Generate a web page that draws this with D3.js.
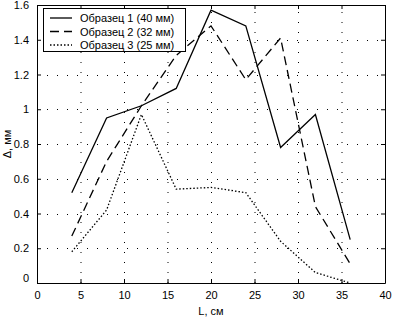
<!DOCTYPE html>
<html>
<head>
  <meta charset='utf-8'>
  <style>
    body { margin: 0; background: #fff; }
    text { font-family: "Liberation Sans", Arial, sans-serif; font-size: 11px; fill: #000; }
  </style>
  <script src='https://cdn.jsdelivr.net/npm/d3@7'></script>
</head>
<body>
  <script>
    // значения
    const L = [4, 8, 12, 16, 20, 24, 28, 32, 36]
    const s1 = [0.52, 0.95, 1.02, 1.12, 1.57, 1.48, 0.78, 0.97, 0.25]
    const s2 = [0.27, 0.70, 1.02, 1.31, 1.48, 1.17, 1.41, 0.44, 0.11]
    const s3 = [0.18, 0.42, 0.97, 0.54, 0.55, 0.52, 0.24, 0.06, 0.00]
    const names = ['Образец 1 (40 мм)', 'Образец 2 (32 мм)', 'Образец 3 (25 мм)']
    const xTicks = [0, 5, 10, 15, 20, 25, 30, 35, 40]
    const yTicks = [0, 0.2, 0.4, 0.6, 0.8, 1, 1.2, 1.4, 1.6]

    const width = 395, height = 321
    const m = { left: 37, right: 10, top: 5, bottom: 38 }

    const svg = d3.select('body').append('svg')
      .attr('width', width).attr('height', height)

    const x = d3.scaleLinear([0, 40], [m.left, width - m.right])
    const y = d3.scaleLinear([0, 1.6], [height - m.bottom, m.top])

    // сетка точками
    const grid = svg.append('g').attr('stroke', '#000').attr('stroke-width', 1)
      .attr('stroke-dasharray', '1,9')
    grid.selectAll('.gx').data(xTicks.slice(1, -1)).enter().append('line')
      .attr('x1', d => x(d) + 0.5).attr('x2', d => x(d) + 0.5)
      .attr('y1', y(0)).attr('y2', y(1.6))
    grid.selectAll('.gy').data(yTicks.slice(1, -1)).enter().append('line')
      .attr('y1', d => Math.round(y(d)) + 0.5).attr('y2', d => Math.round(y(d)) + 0.5)
      .attr('x1', x(0)).attr('x2', x(40))

    // оси со всех сторон, засечки внутрь
    const ax = svg.append('g').attr('transform', `translate(0,${y(0)})`)
      .call(d3.axisBottom(x).tickValues(xTicks).tickSizeInner(-4).tickSizeOuter(0).tickPadding(8))
    svg.append('g').attr('transform', `translate(0,${y(1.6)})`)
      .call(d3.axisTop(x).tickValues(xTicks).tickSizeInner(-4).tickSizeOuter(0).tickFormat(''))
    const ay = svg.append('g').attr('transform', `translate(${x(0)},0)`)
      .call(d3.axisLeft(y).tickValues(yTicks).tickSizeInner(-4).tickSizeOuter(0).tickPadding(8).tickFormat(d3.format('')))
    svg.append('g').attr('transform', `translate(${x(40)},0)`)
      .call(d3.axisRight(y).tickValues(yTicks).tickSizeInner(-4).tickSizeOuter(0).tickFormat(''))
    svg.selectAll('.domain').attr('stroke-width', 1)
    svg.selectAll('.tick text').style('font-size', '11px').attr('font-family', null)
    ay.selectAll('.tick').filter(d => d === 0).select('text').attr('dy', '-0.1em')

    const line = d3.line().x(d => x(d[0])).y(d => y(d[1]))
    const series = [s1, s2, s3]
    const dash = [null, '9,5', '1.5,2']
    svg.append('g').selectAll('path').data(series).enter().append('path')
      .attr('fill', 'none').attr('stroke', '#000').attr('stroke-width', 1.3)
      .attr('stroke-dasharray', (d, i) => dash[i])
      .attr('d', d => line(L.map((v, j) => [v, d[j]])))

    // легенда
    const lg = svg.append('g')
    lg.append('rect').attr('x', 43.5).attr('y', 8.5).attr('width', 142).attr('height', 43)
      .attr('fill', '#fff').attr('stroke', '#000')
    names.forEach((n, i) => {
      const yy = 18 + i * 13.5
      lg.append('line').attr('x1', 50).attr('x2', 72).attr('y1', yy).attr('y2', yy)
        .attr('stroke', '#000').attr('stroke-width', 1.3).attr('stroke-dasharray', dash[i])
      lg.append('text').attr('x', 80).attr('y', yy + 4).text(n)
    })

    svg.append('text').attr('x', x(20)).attr('y', 315).attr('text-anchor', 'middle').text('L, см')
    svg.append('text').attr('transform', `translate(11,${y(0.8)}) rotate(-90)`)
      .attr('text-anchor', 'middle').text('Δ, мм')
  </script>
</body>
</html>
